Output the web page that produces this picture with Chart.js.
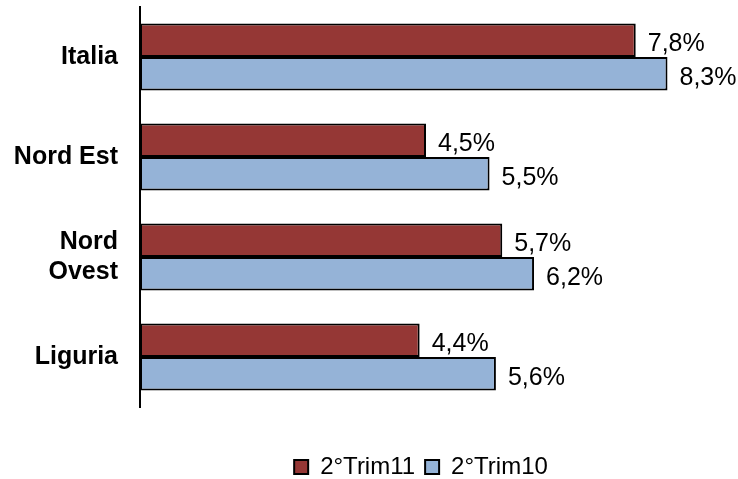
<!DOCTYPE html>
<html>
<head>
<meta charset="utf-8">
<script src="https://cdn.jsdelivr.net/npm/chart.js@4"></script>
<style>
  html, body { margin: 0; padding: 0; background: #fff; }
  #wrap { width: 738px; height: 479px; }
</style>
</head>
<body>
<div id="wrap"><canvas id="chart" width="738" height="479"></canvas></div>
<script>
const categories = ['Italia', 'Nord Est', ['Nord', 'Ovest'], 'Liguria'];
const trim11 = [7.8, 4.5, 5.7, 4.4];
const trim10 = [8.3, 5.5, 6.2, 5.6];

const FONT = '"Liberation Sans", Arial, sans-serif';

// value labels after each bar, italian decimal comma
const valueLabels = {
    id: 'valueLabels',
    afterDatasetsDraw(chart) {
        const ctx = chart.ctx;
        ctx.save();
        ctx.font = '25px ' + FONT;
        ctx.fillStyle = '#000';
        ctx.textAlign = 'left';
        ctx.textBaseline = 'middle';
        chart.data.datasets.forEach((ds, i) => {
            chart.getDatasetMeta(i).data.forEach((bar, j) => {
                const txt = ds.data[j].toFixed(1).replace('.', ',') + '%';
                ctx.fillText(txt, bar.x + 12, bar.y + 4);
            });
        });
        ctx.restore();
    }
};

// legend centred under the plot area and pushed a bit lower
const legendShift = {
    id: 'legendShift',
    afterLayout(chart) {
        const lg = chart.legend;
        const w = lg.right - lg.left;
        const mid = (chart.chartArea.left + chart.chartArea.right) / 2 - 5;
        lg.left = mid - w / 2;
        lg.right = mid + w / 2;
        lg.top += 10;
        lg.bottom += 10;
    }
};

new Chart(document.getElementById('chart'), {
    type: 'bar',
    data: {
        labels: categories,
        datasets: [
            {
                label: '2°Trim11',
                data: trim11,
                backgroundColor: '#953735',
                borderColor: '#000',
                borderWidth: 2,
                borderSkipped: false,
                barPercentage: 1,
                categoryPercentage: 0.67
            },
            {
                label: '2°Trim10',
                data: trim10,
                backgroundColor: '#95B3D7',
                borderColor: '#000',
                borderWidth: 2,
                borderSkipped: false,
                barPercentage: 1,
                categoryPercentage: 0.67
            }
        ]
    },
    options: {
        indexAxis: 'y',
        responsive: false,
        animation: false,
        layout: { padding: { top: 7, right: 26, left: 0, bottom: 0 } },
        scales: {
            x: {
                min: 0,
                max: 9,
                afterFit(scale) { scale.height = 28; },
                grid: { display: false },
                border: { display: false },
                ticks: { display: false }
            },
            y: {
                afterFit(scale) {
                    scale.width = 140;
                    scale.paddingTop = 0;
                    scale.paddingBottom = 0;
                },
                grid: { display: false, drawTicks: false },
                border: { display: true, color: '#000', width: 2 },
                ticks: {
                    color: '#000',
                    padding: 22,
                    font: { family: FONT, size: 25, weight: 'bold' }
                }
            }
        },
        plugins: {
            tooltip: { enabled: false },
            legend: {
                position: 'bottom',
                labels: {
                    color: '#000',
                    boxWidth: 14,
                    boxHeight: 14,
                    padding: 10,
                    font: { family: FONT, size: 24 }
                }
            }
        }
    },
    plugins: [valueLabels, legendShift]
});
</script>
</body>
</html>
